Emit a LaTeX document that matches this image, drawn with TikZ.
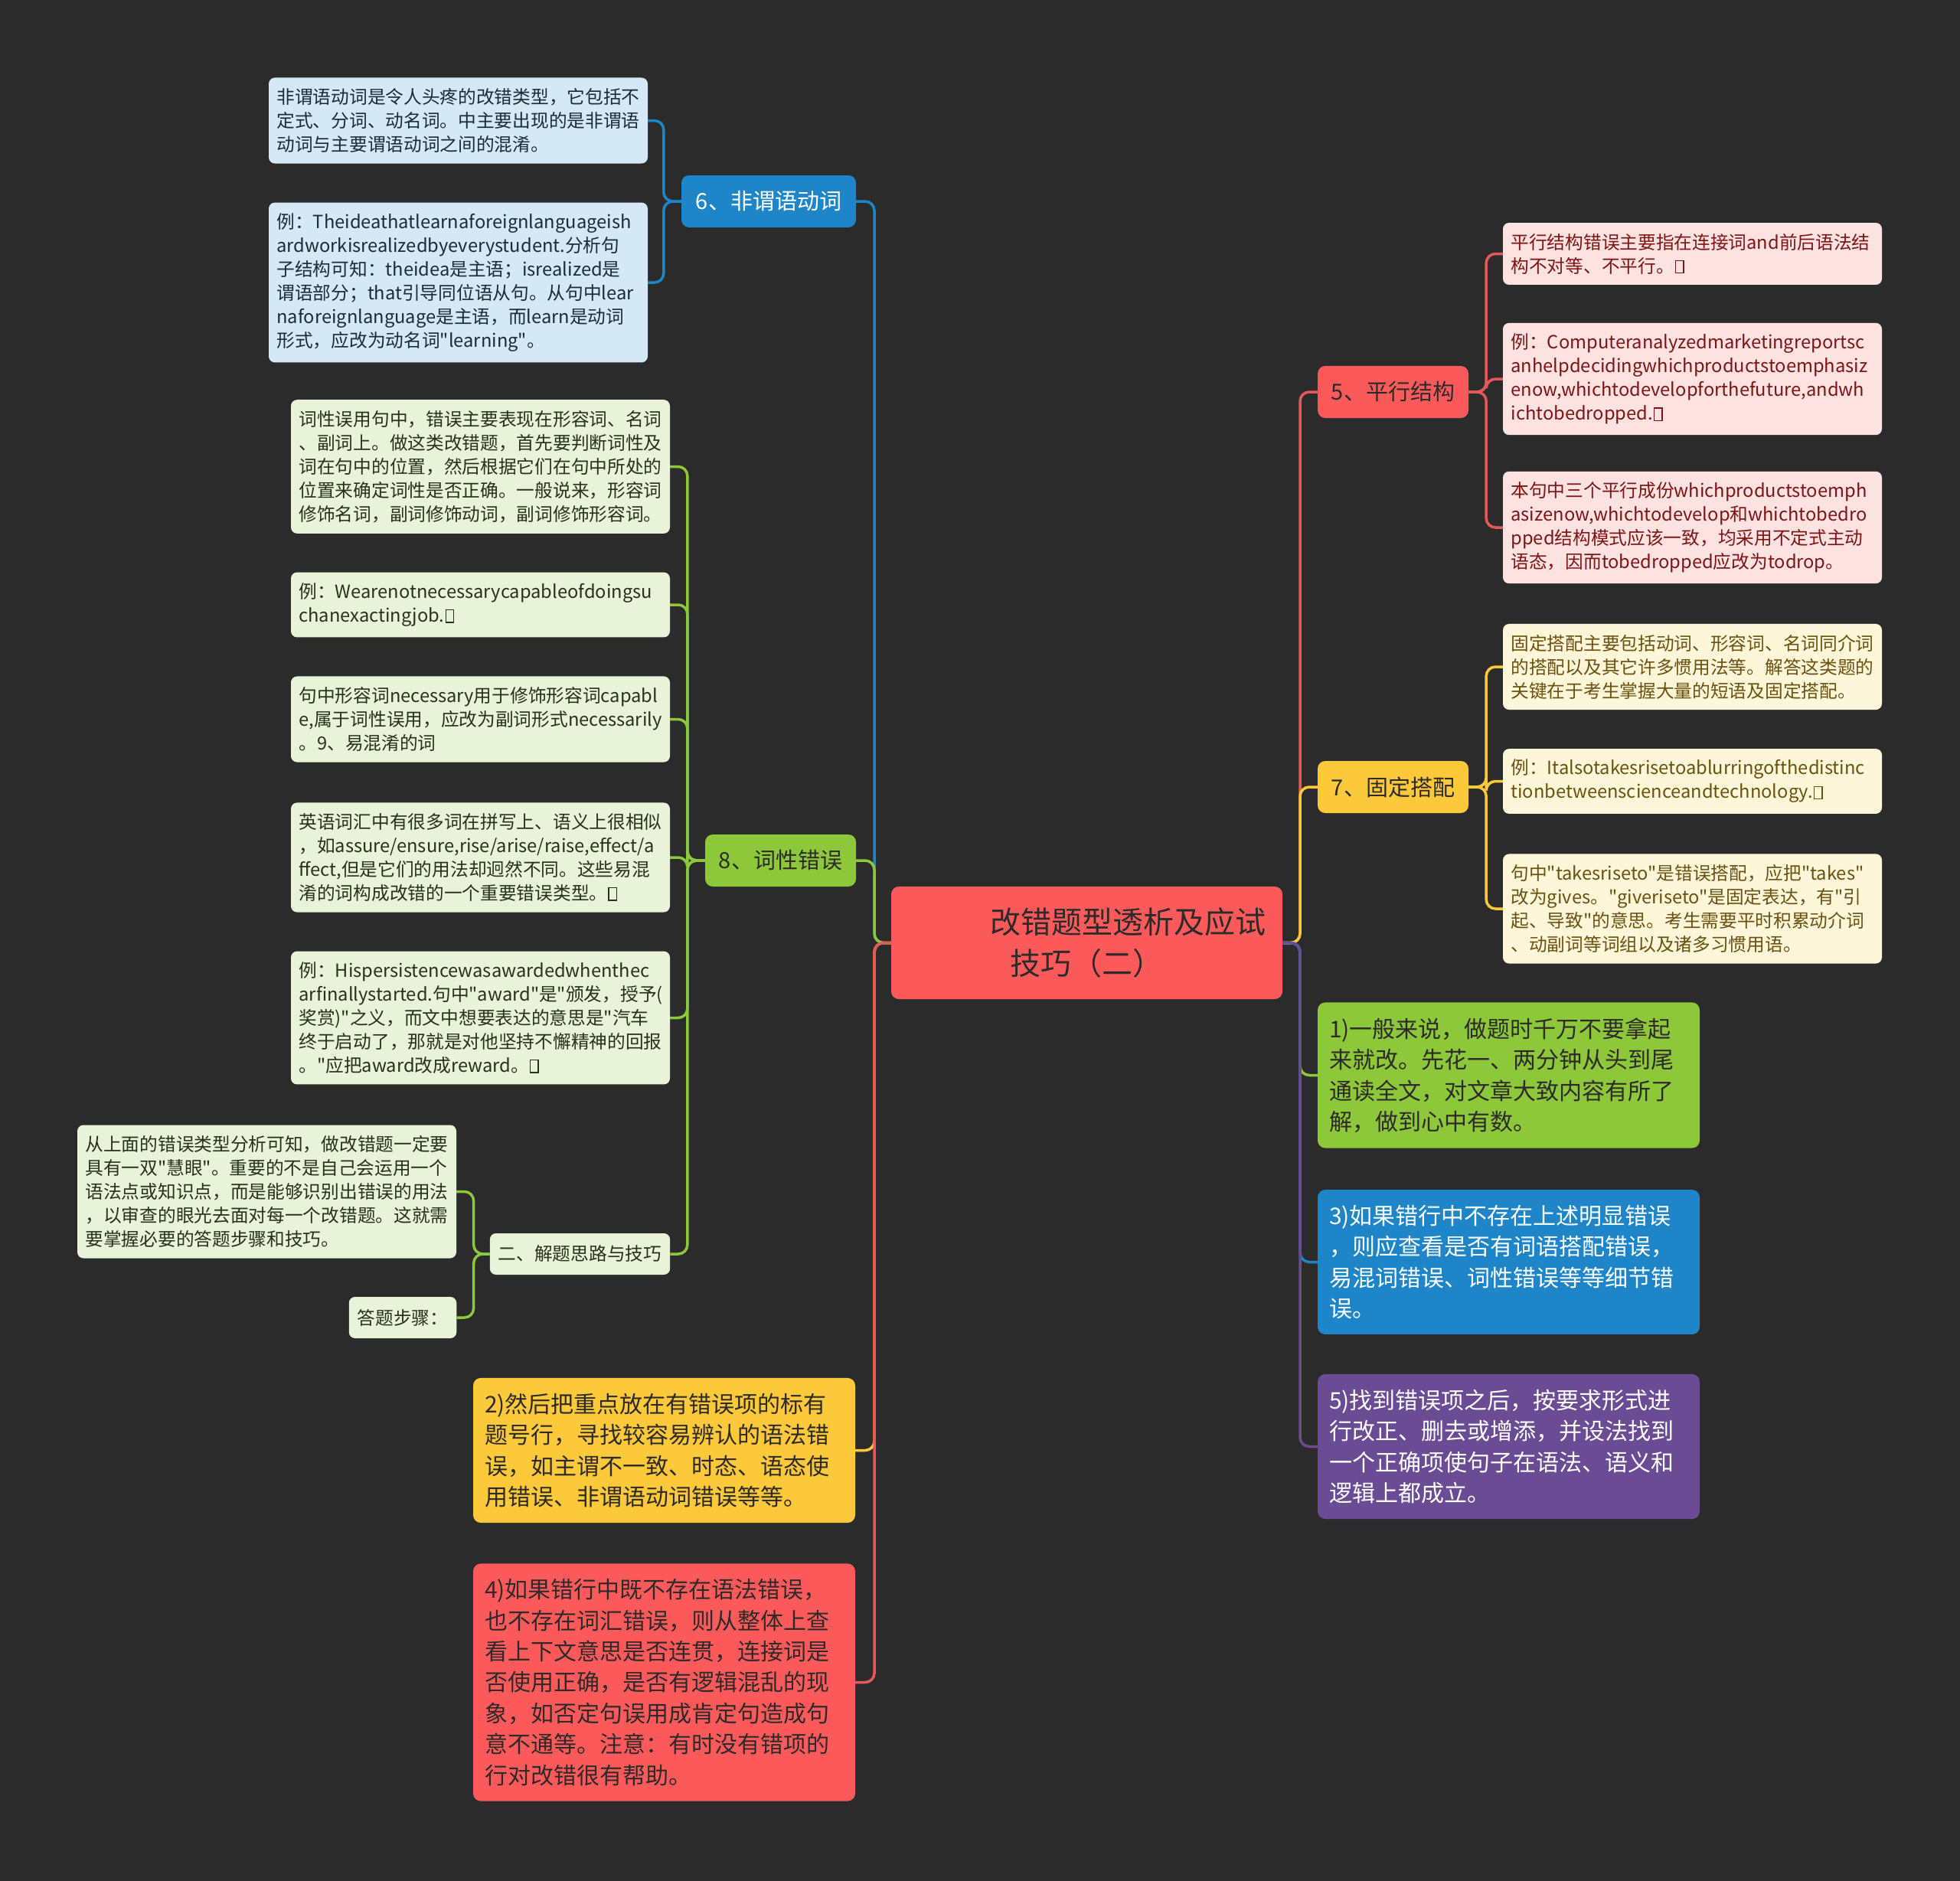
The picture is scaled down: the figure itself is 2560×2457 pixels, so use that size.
\documentclass[tikz,border=0pt]{standalone}
\usepackage{fontspec}
\setmainfont{Noto Sans CJK SC}[Ligatures=TeXOff]
\usepackage{xcolor}
\usepackage{tikz}
\usetikzlibrary{positioning}

\definecolor{bgdark}{HTML}{2B2B2B}
\definecolor{topred}{HTML}{FC5A5A}
\definecolor{linkred}{HTML}{E8585A}
\definecolor{topblue}{HTML}{1E86C8}
\definecolor{topgreen}{HTML}{8CC83A}
\definecolor{topyellow}{HTML}{FCC93A}
\definecolor{toppurple}{HTML}{6A4C94}
\definecolor{paleblue}{HTML}{D5E8F5}
\definecolor{palegreen}{HTML}{E9F3DA}
\definecolor{palered}{HTML}{FDE2E2}
\definecolor{paleyellow}{HTML}{FDF6D8}
\definecolor{inkdark}{HTML}{2E2A2A}
\definecolor{inkred}{HTML}{7E1414}
\definecolor{inkolive}{HTML}{6A5210}
\definecolor{inkblue}{HTML}{1C2B38}
\definecolor{inkgreen}{HTML}{26321A}

\newcommand{\tofu}{\kern1pt{\fboxsep=0pt\fboxrule=1.4pt\fbox{\rule{0pt}{15pt}\rule{9pt}{0pt}}}}

\begin{document}
\begin{tikzpicture}[x=1pt, y=1pt,
    root/.style={fill=topred, text=inkdark, rounded corners=10pt, minimum width=511pt, minimum height=147pt, text width=481pt, inner xsep=15pt, align=left, font=\fontsize{40}{54}\selectfont},
    branch/.style={rounded corners=10pt, minimum height=68pt, inner xsep=0pt, font=\fontsize{29}{34}\selectfont},
    leaf/.style={rounded corners=8pt, text width=474pt, inner xsep=10.5pt, inner ysep=14pt, align=left, font=\fontsize{23.7}{31}\selectfont},
    sub/.style={rounded corners=8pt, minimum height=54pt, inner xsep=11pt, fill=palegreen, text=inkgreen, font=\fontsize{23.7}{31}\selectfont},
    big/.style={rounded corners=10pt, text width=469pt, inner xsep=15pt, inner ysep=20pt, align=left, font=\fontsize{30}{40.4}\selectfont},
    link/.style={line width=3.5pt, rounded corners=12pt}]
    \fill[bgdark] (0,0) rectangle (2560,-2457);

    \node[root] (root) at (1419.5,-1231.5) {\hspace*{114pt}改错题型透析及应试\\\hspace*{140pt}技巧（二）};

    \node[branch, fill=topblue, text=white, minimum width=228pt] (six) at (1004,-263) {6、非谓语动词};
    \node[leaf, fill=paleblue, text=inkblue] (sixa) at (598.5,-157.5) {非谓语动词是令人头疼的改错类型，它包括不\\定式、分词、动名词。中主要出现的是非谓语\\动词与主要谓语动词之间的混淆。};
    \node[leaf, fill=paleblue, text=inkblue] (sixb) at (598.5,-369) {例：Theideathatlearnaforeignlanguageish\\ardworkisrealizedbyeverystudent.分析句\\子结构可知：theidea是主语；isrealized是\\谓语部分；that引导同位语从句。从句中lear\\naforeignlanguage是主语，而learn是动词\\形式，应改为动名词"learning"。};

    \node[branch, fill=topgreen, text=inkdark, minimum width=197pt] (eight) at (1019.5,-1124) {8、词性错误};
    \node[leaf, fill=palegreen, text=inkgreen] (eighta) at (627.5,-609.5) {词性误用句中，错误主要表现在形容词、名词\\、副词上。做这类改错题，首先要判断词性及\\词在句中的位置，然后根据它们在句中所处的\\位置来确定词性是否正确。一般说来，形容词\\修饰名词，副词修饰动词，副词修饰形容词。};
    \node[leaf, fill=palegreen, text=inkgreen] (eightb) at (627.5,-790) {例：Wearenotnecessarycapableofdoingsu\\chanexactingjob.\tofu};
    \node[leaf, fill=palegreen, text=inkgreen] (eightc) at (627.5,-939.5) {句中形容词necessary用于修饰形容词capabl\\e,属于词性误用，应改为副词形式necessarily\\。9、易混淆的词};
    \node[leaf, fill=palegreen, text=inkgreen] (eightd) at (627.5,-1120) {英语词汇中有很多词在拼写上、语义上很相似\\，如assure/ensure,rise/arise/raise,effect/a\\ffect,但是它们的用法却迥然不同。这些易混\\淆的词构成改错的一个重要错误类型。\tofu};
    \node[leaf, fill=palegreen, text=inkgreen] (eighte) at (627.5,-1329.5) {例：Hispersistencewasawardedwhenthec\\arfinallystarted.句中"award"是"颁发，授予(\\奖赏)"之义，而文中想要表达的意思是"汽车\\终于启动了，那就是对他坚持不懈精神的回报\\。"应把award改成reward。\tofu};

    \node[sub] (solve) at (757.5,-1638) {二、解题思路与技巧};
    \node[leaf, fill=palegreen, text=inkgreen] (solvea) at (348.5,-1556.5) {从上面的错误类型分析可知，做改错题一定要\\具有一双"慧眼"。重要的不是自己会运用一个\\语法点或知识点，而是能够识别出错误的用法\\，以审查的眼光去面对每一个改错题。这就需\\要掌握必要的答题步骤和技巧。};
    \node[sub] (solveb) at (526,-1721) {答题步骤：};

    \node[big, fill=topyellow, text=inkdark] (steptwo) at (867.5,-1894.5) {2)然后把重点放在有错误项的标有\\题号行，寻找较容易辨认的语法错\\误，如主谓不一致、时态、语态使\\用错误、非谓语动词错误等等。};
    \node[big, fill=topred, text=inkdark] (stepfour) at (867.5,-2197.5) {4)如果错行中既不存在语法错误，\\也不存在词汇错误，则从整体上查\\看上下文意思是否连贯，连接词是\\否使用正确，是否有逻辑混乱的现\\象，如否定句误用成肯定句造成句\\意不通等。注意：有时没有错项的\\行对改错很有帮助。};

    \node[branch, fill=topred, text=inkdark, minimum width=197pt] (five) at (1819.5,-512) {5、平行结构};
    \node[leaf, fill=palered, text=inkred] (fivea) at (2210.5,-331.5) {平行结构错误主要指在连接词and前后语法结\\构不对等、不平行。\tofu};
    \node[leaf, fill=palered, text=inkred] (fiveb) at (2210.5,-495) {例：Computeranalyzedmarketingreportsc\\anhelpdecidingwhichproductstoemphasiz\\enow,whichtodevelopforthefuture,andwh\\ichtobedropped.\tofu};
    \node[leaf, fill=palered, text=inkred] (fivec) at (2210.5,-689) {本句中三个平行成份whichproductstoemph\\asizenow,whichtodevelop和whichtobedro\\pped结构模式应该一致，均采用不定式主动\\语态，因而tobedropped应改为todrop。};

    \node[branch, fill=topyellow, text=inkdark, minimum width=197pt] (seven) at (1819.5,-1028) {7、固定搭配};
    \node[leaf, fill=paleyellow, text=inkolive] (sevena) at (2210.5,-871) {固定搭配主要包括动词、形容词、名词同介词\\的搭配以及其它许多惯用法等。解答这类题的\\关键在于考生掌握大量的短语及固定搭配。};
    \node[leaf, fill=paleyellow, text=inkolive] (sevenb) at (2210.5,-1020.5) {例：Italsotakesrisetoablurringofthedistinc\\tionbetweenscienceandtechnology.\tofu};
    \node[leaf, fill=paleyellow, text=inkolive] (sevenc) at (2210.5,-1187) {句中"takesriseto"是错误搭配，应把"takes"\\改为gives。"giveriseto"是固定表达，有"引\\起、导致"的意思。考生需要平时积累动介词\\、动副词等词组以及诸多习惯用语。};

    \node[big, fill=topgreen, text=inkdark] (stepone) at (1970.5,-1404.5) {1)一般来说，做题时千万不要拿起\\来就改。先花一、两分钟从头到尾\\通读全文，对文章大致内容有所了\\解，做到心中有数。};
    \node[big, fill=topblue, text=white] (stepthree) at (1970.5,-1648.5) {3)如果错行中不存在上述明显错误\\，则应查看是否有词语搭配错误，\\易混词错误、词性错误等等细节错\\误。};
    \node[big, fill=toppurple, text=white] (stepfive) at (1970.5,-1889.5) {5)找到错误项之后，按要求形式进\\行改正、删去或增添，并设法找到\\一个正确项使句子在语法、语义和\\逻辑上都成立。};

    \coordinate (lt) at (1142,-1231.5);
    \coordinate (rt) at (1698,-1231.5);

    \draw[link, topblue] (root.west) -- (lt) |- (six.east);
    \draw[link, topgreen] (root.west) -- (lt) |- (eight.east);
    \draw[link, topyellow] (root.west) -- (lt) |- (steptwo.east);
    \draw[link, linkred] (root.west) -- (lt) |- (stepfour.east);

    \draw[link, linkred] (root.east) -- (rt) |- (five.west);
    \draw[link, topyellow] (root.east) -- (rt) |- (seven.west);
    \draw[link, topgreen] (root.east) -- (rt) |- (stepone.west);
    \draw[link, topblue] (root.east) -- (rt) |- (stepthree.west);
    \draw[link, toppurple] (root.east) -- (rt) |- (stepfive.west);

    \draw[link, topblue] (six.west) -- ++(-23,0) |- (sixa.east);
    \draw[link, topblue] (six.west) -- ++(-23,0) |- (sixb.east);

    \draw[link, topgreen] (eight.west) -- ++(-23,0) |- (eighta.east);
    \draw[link, topgreen] (eight.west) -- ++(-23,0) |- (eightb.east);
    \draw[link, topgreen] (eight.west) -- ++(-23,0) |- (eightc.east);
    \draw[link, topgreen] (eight.west) -- ++(-23,0) |- (eightd.east);
    \draw[link, topgreen] (eight.west) -- ++(-23,0) |- (eighte.east);
    \draw[link, topgreen] (eight.west) -- ++(-23,0) |- (solve.east);

    \draw[link, topgreen] (solve.west) -- ++(-21,0) |- (solvea.east);
    \draw[link, topgreen] (solve.west) -- ++(-21,0) |- (solveb.east);

    \draw[link, linkred] (five.east) -- ++(23,0) |- (fivea.west);
    \draw[link, linkred] (five.east) -- ++(23,0) |- (fiveb.west);
    \draw[link, linkred] (five.east) -- ++(23,0) |- (fivec.west);

    \draw[link, topyellow] (seven.east) -- ++(23,0) |- (sevena.west);
    \draw[link, topyellow] (seven.east) -- ++(23,0) |- (sevenb.west);
    \draw[link, topyellow] (seven.east) -- ++(23,0) |- (sevenc.west);
\end{tikzpicture}
\end{document}
